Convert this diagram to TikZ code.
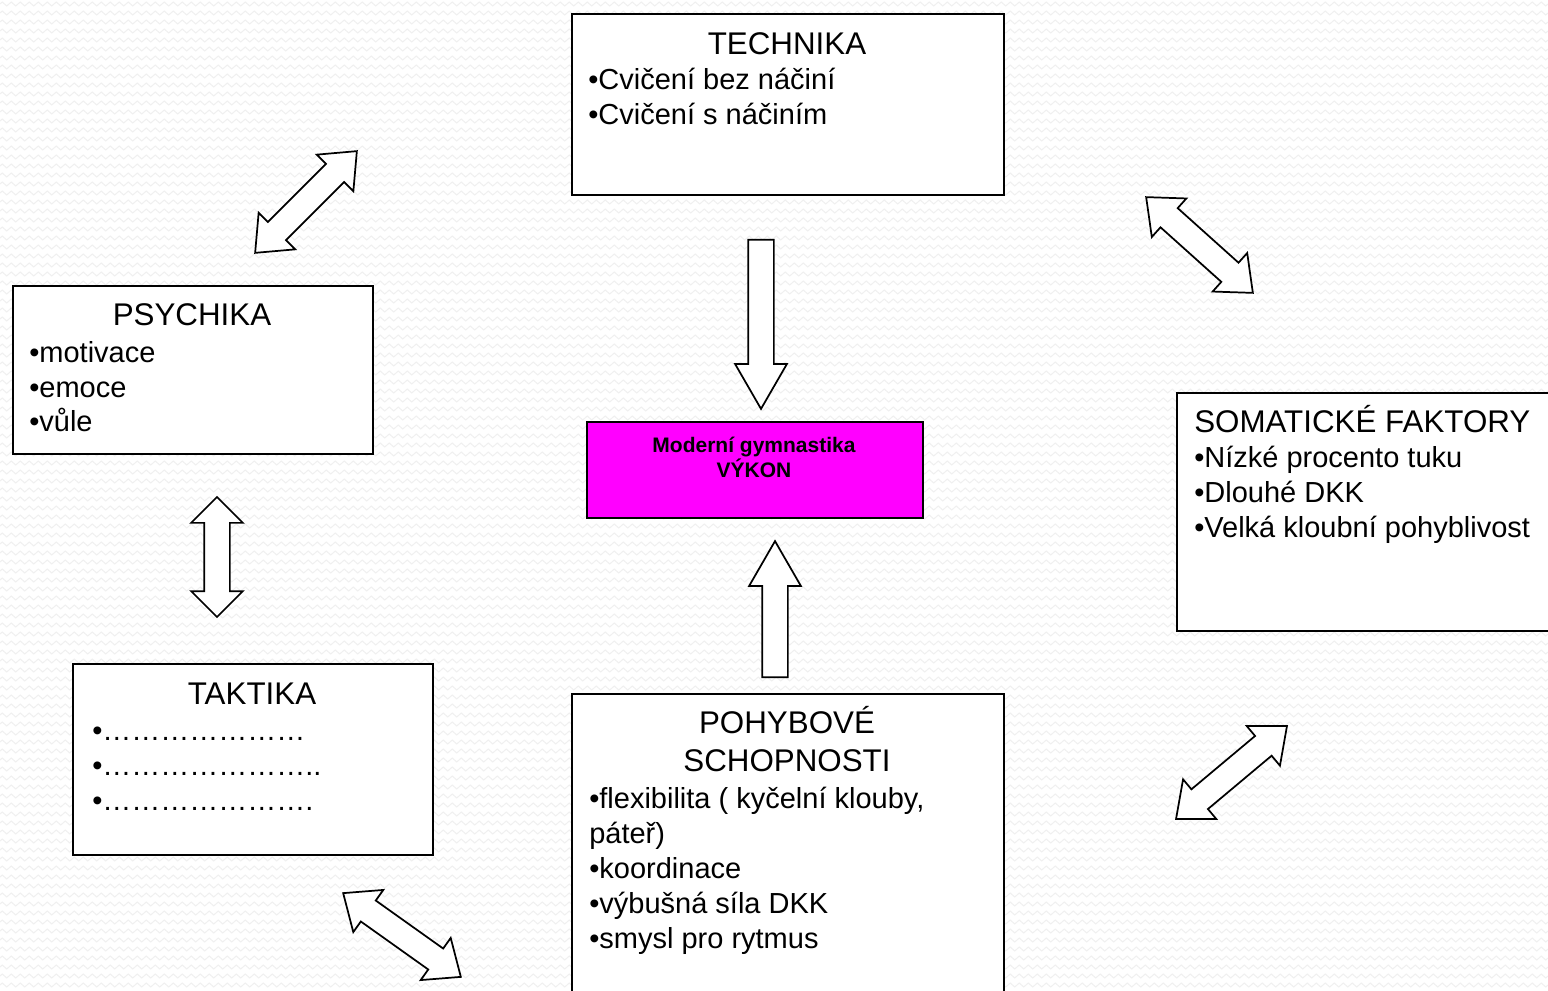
\documentclass[tikz,border=0pt]{standalone}
\usepackage{fontspec}
\setmainfont{Liberation Sans}
\usetikzlibrary{shapes.arrows,calc,decorations.pathmorphing}

\definecolor{vykonfill}{RGB}{255,0,255}
\newcommand\tdots{…}
% double block arrow centred between two named points: #1 style, #2 and #3 tips
\newcommand\linkarrow[3]{%
  \path let \p1=(#2), \p2=(#3),
    \n1={atan2(\y2-\y1,\x2-\x1)},
    \n2={veclen(\x2-\x1,\y2-\y1)} in
    node[#1, minimum height=\n2, rotate=\n1] at ($(#2)!0.5!(#3)$) {};}
% single block arrow from tail #2 to tip #3
\newcommand\pusharrow[3]{%
  \path let \p1=(#2), \p2=(#3),
    \n1={atan2(\y2-\y1,\x2-\x1)},
    \n2={veclen(\x2-\x1,\y2-\y1)} in
    node[#1, minimum height=\n2, rotate=\n1, anchor=tail] at (#2) {};}

\begin{document}
\begin{tikzpicture}[x=0.75pt,y=-0.75pt,
  box/.style={draw=black, line width=1.5pt, fill=white, rectangle, inner sep=0pt, anchor=north west},
  boxsize/.style 2 args={minimum width={#1*0.75pt}, minimum height={#2*0.75pt}},
  ttl/.style={font=\fontsize{23.5}{28}\selectfont, inner sep=0pt, anchor=base},
  itm/.style={font=\fontsize{21.75}{26}\selectfont, inner sep=0pt, anchor=base west},
  boldtxt/.style={font=\fontsize{15.75}{18.75}\selectfont\bfseries, inner sep=0pt, anchor=base},
  blk/.style={draw=black, line width=1.3pt, fill=white, inner xsep=0pt, inner ysep=9pt, minimum width=37.5pt},
  onearrow/.style={blk, single arrow, single arrow head extend=9.75pt, single arrow tip angle=60},
  twoarrow/.style={blk, double arrow, double arrow head extend=9.75pt, double arrow tip angle=#1},
  twoarrow/.default=80,
  bg/.style={draw=black!6, line width=0.75pt, decorate, decoration={zigzag, segment length=6.75pt, amplitude=1.5pt}}
]
\useasboundingbox (0,0) rectangle (1548,991);
\clip (0,0) rectangle (1548,991);

% faint woven background
\fill[white] (0,0) rectangle (1548,991);
\foreach \r in {4,13,...,985} \draw[bg] (0,\r) -- (1548,\r);

% boxes
\node[box, boxsize={432}{181}] (tech) at (571,13) {};
\node[box, boxsize={360}{168}] (psy) at (12,285) {};
\node[box, boxsize={360}{191}] (tak) at (72,663) {};
\node[box, boxsize={432}{330}] (poh) at (571,693) {};
\node[box, boxsize={420}{238}] (som) at (1176,392) {};
\node[box, boxsize={336}{96}, fill=vykonfill] (vykon) at (586,421) {};

% TECHNIKA
\node[ttl] at (787,55) {TECHNIKA};
\node[itm] at (588,90) {•Cvičení bez náčiní};
\node[itm] at (588,125) {•Cvičení s náčiním};

% PSYCHIKA
\node[ttl] at (192,325) {PSYCHIKA};
\node[itm] at (29,362) {•motivace};
\node[itm] at (29,397) {•emoce};
\node[itm] at (29,431) {•vůle};

% TAKTIKA
\node[ttl] at (252,704) {TAKTIKA};
\node[itm] at (92,740) {•\tdots\tdots\tdots\tdots\tdots\tdots\tdots};
\node[itm] at (92,775) {•\tdots\tdots\tdots\tdots\tdots\tdots\tdots..};
\node[itm] at (92,810) {•\tdots\tdots\tdots\tdots\tdots\tdots\tdots.};

% POHYBOVÉ SCHOPNOSTI
\node[ttl] at (787,733) {POHYBOVÉ};
\node[ttl] at (787,771) {SCHOPNOSTI};
\node[itm] at (589,808) {•flexibilita ( kyčelní klouby,};
\node[itm] at (589,843) {páteř)};
\node[itm] at (589,878) {•koordinace};
\node[itm] at (589,913) {•výbušná síla DKK};
\node[itm] at (589,948) {•smysl pro rytmus};

% SOMATICKÉ FAKTORY
\node[ttl, anchor=base west] at (1194,432) {SOMATICKÉ FAKTORY};
\node[itm] at (1194,467) {•Nízké procento tuku};
\node[itm] at (1194,502) {•Dlouhé DKK};
\node[itm] at (1194,537) {•Velká kloubní pohyblivost};

% centre
\node[boldtxt] at (754,452) {Moderní gymnastika};
\node[boldtxt] at (754,477) {VÝKON};

% arrow end points
\coordinate (tDown) at (761,239);  \coordinate (hDown) at (761,408);
\coordinate (tUp)   at (775,678);  \coordinate (hUp)   at (775,542);
\coordinate (v1) at (217,497);     \coordinate (v2) at (217,617);
\coordinate (a1) at (255,253);     \coordinate (b1) at (357,151);
\coordinate (a2) at (1146,197);    \coordinate (b2) at (1253,293);
\coordinate (a3) at (1176,819);    \coordinate (b3) at (1287,726);
\coordinate (a4) at (343,893);     \coordinate (b4) at (461,977);

\pusharrow{onearrow}{tDown}{hDown}
\pusharrow{onearrow}{tUp}{hUp}
\linkarrow{twoarrow=90}{v1}{v2}
\linkarrow{twoarrow}{a1}{b1}
\linkarrow{twoarrow}{a2}{b2}
\linkarrow{twoarrow}{a3}{b3}
\linkarrow{twoarrow}{a4}{b4}
\end{tikzpicture}
\end{document}
